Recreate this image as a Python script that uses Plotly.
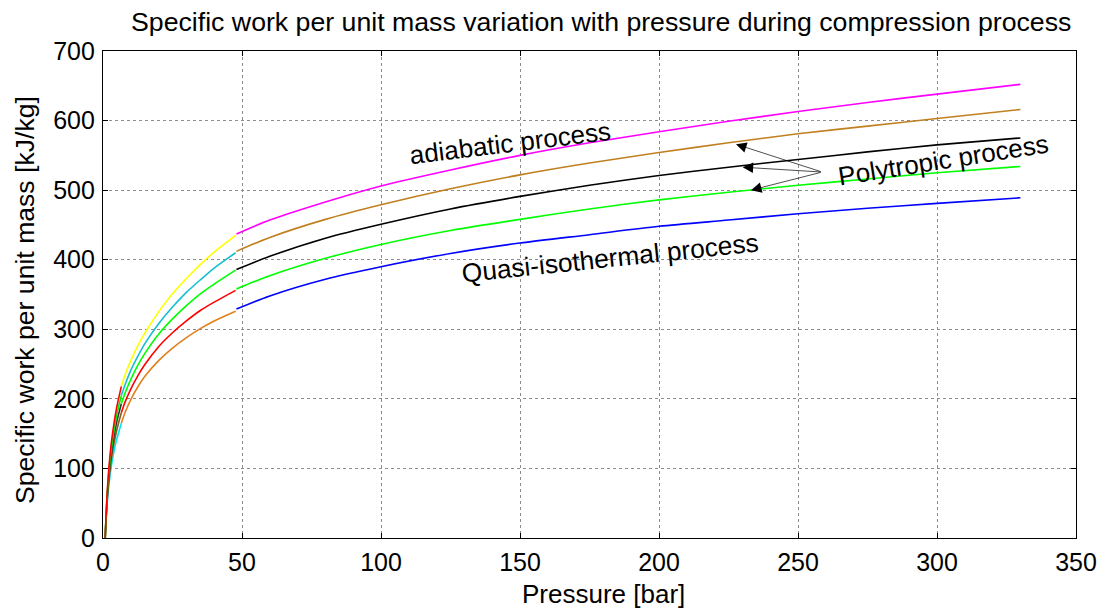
import plotly.graph_objects as go

# ---------------- data ----------------
# Stage 1 pressures [bar] and specific work [kJ/kg]
p_stage1 = [0.8, 1.0, 1.5, 2.0, 2.5, 3.0, 4.0, 5.0, 6.6]
w1_red = [0, 23, 65, 95, 118, 137, 166, 189, 218]
w1_green = [0, 22, 61, 89, 111, 128, 156, 178, 205]
w1_black = [0, 20, 58, 84, 104, 121, 147, 168, 193]
w1_brown = [0, 19, 54, 78, 97, 113, 137, 156, 180]
w1_cyan = [0, 17, 49, 72, 89, 103, 126, 143, 165]

# Stage 2
p_stage2 = [6.6, 8, 10, 12.5, 15, 20, 25, 30, 35, 40, 47.7]
w2_yellow = [218, 235, 255, 276, 294, 325, 351, 373, 393, 411, 435]
w2_cyan = [205, 221, 241, 261, 279, 308, 332, 353, 371, 388, 410]
w2_green = [193, 209, 228, 248, 265, 293, 315, 334, 351, 365, 385]
w2_red = [180, 196, 214, 233, 249, 275, 295, 312, 327, 339, 356]
w2_orange = [165, 181, 199, 217, 232, 255, 273, 288, 301, 312, 326]

# Stage 3
p_stage3 = [48, 60, 80, 100, 125, 150, 175, 200, 225, 250, 275, 300, 330]
w3_magenta = [437, 457, 483, 506, 529, 550, 568, 584, 599, 613, 626, 638, 652]
w3_brown = [412, 432, 458, 479, 502, 522, 539, 554, 568, 581, 592, 603, 616]
w3_black = [386, 405, 431, 451, 473, 491, 507, 521, 533, 544, 555, 565, 575]
w3_green = [358, 377, 402, 422, 442, 458, 473, 486, 497, 507, 516, 525, 534]
w3_blue = [329, 348, 372, 390, 409, 424, 436, 448, 457, 466, 474, 481, 489]

x_ticks = [0, 50, 100, 150, 200, 250, 300, 350]
y_ticks = [0, 100, 200, 300, 400, 500, 600, 700]

title_text = "Specific work per unit mass variation with pressure during compression process"
x_title = "Pressure [bar]"
y_title = "Specific work per unit mass [kJ/kg]"

# ---------------- figure ----------------
FONT = "Liberation Sans, Arial, Helvetica, sans-serif"

series = [
    (p_stage1, w1_cyan, "#00E5EE"),
    (p_stage1, w1_brown, "#8A5A20"),
    (p_stage1, w1_black, "#303030"),
    (p_stage1, w1_green, "#00EE00"),
    (p_stage1, w1_red, "#FF0000"),
    (p_stage2, w2_yellow, "#FFFF00"),
    (p_stage2, w2_cyan, "#17BECF"),
    (p_stage2, w2_green, "#00FF00"),
    (p_stage2, w2_red, "#FF0000"),
    (p_stage2, w2_orange, "#E0801E"),
    (p_stage3, w3_magenta, "#FF00FF"),
    (p_stage3, w3_brown, "#C08020"),
    (p_stage3, w3_black, "#000000"),
    (p_stage3, w3_green, "#00FF00"),
    (p_stage3, w3_blue, "#0000FF"),
]

fig = go.Figure()
for px, wy, col in series:
    fig.add_trace(go.Scatter(
        x=px, y=wy, mode="lines",
        line=dict(color=col, width=1.6, shape="spline", smoothing=0.8),
        showlegend=False, hoverinfo="skip",
    ))

axis_common = dict(
    showline=True, linecolor="black", linewidth=1.2, mirror="ticks",
    ticks="inside", ticklen=5, tickcolor="black",
    showgrid=True, gridcolor="#8c8c8c", griddash="dot", gridwidth=1,
    zeroline=False, automargin=False,
    tickfont=dict(family=FONT, size=25, color="black"),
)

fig.update_xaxes(range=[0, 350], tickvals=x_ticks, ticklabelstandoff=2, **axis_common)
fig.update_yaxes(range=[0, 700], tickvals=y_ticks, ticklabelstandoff=2, **axis_common)

# The page body adds an 8 px offset; the figure is sized to fill the rest of the window.
OFF = 8
W, H = 1111 - OFF, 610 - OFF
L, R, T, B = 103 - OFF, 35, 51 - OFF, 72


def paper_x(pix):
    return (pix - OFF - L) / (W - L - R)


def paper_y(pix):
    return (H - B - (pix - OFF)) / (H - T - B)


annotations = [
    dict(text=title_text, x=paper_x(601), y=paper_y(22), xref="paper", yref="paper",
         xanchor="center", yanchor="middle", showarrow=False,
         font=dict(family=FONT, size=26.7, color="black")),
    dict(text=x_title, x=paper_x(603), y=paper_y(594), xref="paper", yref="paper",
         xanchor="center", yanchor="middle", showarrow=False,
         font=dict(family=FONT, size=26, color="black")),
    dict(text=y_title, x=paper_x(25), y=paper_y(300), xref="paper", yref="paper",
         xanchor="center", yanchor="middle", showarrow=False, textangle=-90,
         font=dict(family=FONT, size=26.6, color="black")),
    dict(text="adiabatic process", x=146.5, y=568, xref="x", yref="y",
         xanchor="center", yanchor="middle", showarrow=False, textangle=-7,
         font=dict(family=FONT, size=26, color="black")),
    dict(text="Quasi-isothermal process", x=182.3, y=403, xref="x", yref="y",
         xanchor="center", yanchor="middle", showarrow=False, textangle=-6,
         font=dict(family=FONT, size=26.3, color="black")),
    dict(text="Polytropic process", x=302, y=544, xref="x", yref="y",
         xanchor="center", yanchor="middle", showarrow=False, textangle=-9,
         font=dict(family=FONT, size=26, color="black")),
]

# arrows from the "Polytropic process" label to three curves
arrow_tail = (258.7, 526)
arrow_heads = [(227.7, 566), (230.1, 533), (233.1, 500)]
for hx, hy in arrow_heads:
    annotations.append(dict(
        x=hx, y=hy, ax=arrow_tail[0], ay=arrow_tail[1],
        xref="x", yref="y", axref="x", ayref="y",
        text="", showarrow=True, arrowhead=2, arrowsize=3,
        arrowwidth=0.7, arrowcolor="black",
    ))

fig.update_layout(
    width=W, height=H,
    margin=dict(l=L, r=R, t=T, b=B, autoexpand=False),
    paper_bgcolor="white", plot_bgcolor="white",
    annotations=annotations,
    font=dict(family=FONT, color="black"),
)

fig.write_html("out.html")
